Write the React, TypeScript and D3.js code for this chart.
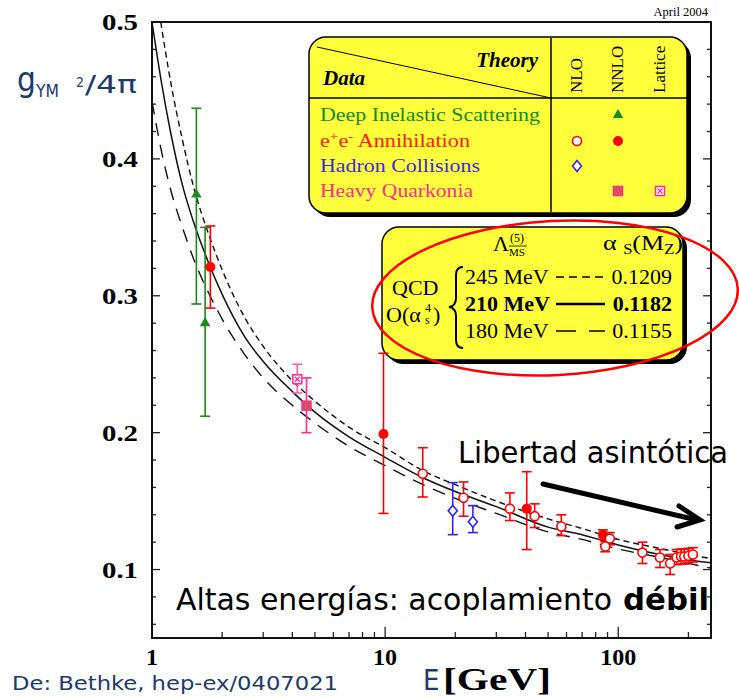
import React, { useEffect, useRef } from 'react';
import * as d3 from 'd3';

// Running coupling alpha_s(E), Bethke 2004 summary plot (D3)
const W = 739;
const H = 698;

// theory bands
const curveE = [1, 1.1, 1.2, 1.35, 1.5, 1.75, 2, 2.5, 3, 4, 5, 7, 10, 15, 20, 30, 50, 70, 100, 150, 200, 250];
const curve210 = [0.5, 0.455, 0.42, 0.381, 0.355, 0.324, 0.301, 0.27, 0.252, 0.23, 0.215, 0.197, 0.182, 0.166, 0.157, 0.146, 0.131, 0.1255, 0.118, 0.111, 0.107, 0.105];
const curve180 = [0.442, 0.405, 0.378, 0.35, 0.328, 0.302, 0.283, 0.257, 0.24, 0.22, 0.207, 0.19, 0.176, 0.161, 0.152, 0.141, 0.1275, 0.122, 0.115, 0.109, 0.1045, 0.101];
const curve245E = [1.09, 1.2, 1.35, 1.5, 1.75, 2, 2.5, 3, 4, 5, 7, 10, 15, 20, 30, 50, 70, 100, 150, 200, 250];
const curve245 = [0.5, 0.457, 0.414, 0.381, 0.345, 0.319, 0.284, 0.263, 0.238, 0.223, 0.204, 0.189, 0.171, 0.162, 0.15, 0.137, 0.13, 0.122, 0.1155, 0.111, 0.108];

// measurements
const disE = [1.55, 1.69];
const disV = [0.374, 0.28];
const disLo = [0.294, 0.212];
const disHi = [0.437, 0.35];

const eeNnloE = [1.78, 9.84, 40.5, 86];
const eeNnloV = [0.321, 0.199, 0.1445, 0.1255];
const eeNnloLo = [0.291, 0.141, 0.1146, 0.122];
const eeNnloHi = [0.351, 0.258, 0.1715, 0.129];

const eeNloE = [14.5, 21.7, 34.3, 43.8, 57, 88, 92, 127, 151, 167, 178, 186, 192, 200, 209];
const eeNloV = [0.17, 0.1525, 0.1445, 0.139, 0.1315, 0.1168, 0.1226, 0.1124, 0.1088, 0.1044, 0.1088, 0.1095, 0.1095, 0.11, 0.111];
const eeNloLo = [0.153, 0.139, 0.1358, 0.1307, 0.1248, 0.113, 0.118, 0.1044, 0.1015, 0.0964, 0.1036, 0.104, 0.104, 0.105, 0.1055];
const eeNloHi = [0.189, 0.164, 0.156, 0.148, 0.14, 0.1204, 0.127, 0.12, 0.1146, 0.111, 0.1146, 0.115, 0.115, 0.1155, 0.116];

const hadE = [19.5, 23.8];
const hadV = [0.143, 0.135];
const hadLo = [0.1255, 0.127];
const hadHi = [0.1635, 0.1467];

const hqNnloE = [4.6];
const hqNnloV = [0.2197];
const hqNnloLo = [0.2];
const hqNnloHi = [0.24];

const hqLatE = [4.2];
const hqLatV = [0.239];
const hqLatLo = [0.229];
const hqLatHi = [0.25];

const yMajor = [0.1, 0.2, 0.3, 0.4, 0.5];
const yLabels = ['0.1', '0.2', '0.3', '0.4', '0.5'];
const yMinor = d3.range(3, 26).map(i => +(i * 0.02).toFixed(2));
const xMajor = [1, 10, 100];
const xLabels = ['1', '10', '100'];

const legendRows = ['Deep Inelastic Scattering', 'e+e- Annihilation', 'Hadron Collisions', 'Heavy Quarkonia'];
const legendColors = ['#148c14', '#ff1a00', '#3a2ad8', '#ff2d8f'];
const legendWidths = [220, 150, 160, 153];
const legendCols = ['NLO', 'NNLO', 'Lattice'];
const legendMarks = [
  [null, 'triangle', null],
  ['circleOpen', 'circleFilled', null],
  ['diamond', null, null],
  [null, 'squareFilled', 'squareX'],
];

const qcdLambda = ['245 MeV', '210 MeV', '180 MeV'];
const qcdAlpha = ['0.1209', '0.1182', '0.1155'];

const GREEN = '#1b8a1b';
const RED = '#ff0000';
const BLUE = '#3322ee';
const PINK = '#ff2a96';
const YELLOW = '#ffff3c';
const NAVY = '#1d3a6b';
const serif = '"Liberation Serif", "Times New Roman", serif';
const sans = '"DejaVu Sans Condensed", "DejaVu Sans", Verdana, sans-serif';

function drawMark(g: any, type: string, cx: number, cy: number, color: string) {
  const t = `translate(${cx},${cy})`;
  if (type === 'triangle') {
    g.append('path').attr('d', d3.symbol(d3.symbolTriangle, 48)()).attr('transform', t).attr('fill', color);
  } else if (type === 'circleFilled') {
    g.append('circle').attr('cx', cx).attr('cy', cy).attr('r', 5).attr('fill', color);
  } else if (type === 'circleOpen') {
    g.append('circle').attr('cx', cx).attr('cy', cy).attr('r', 4.5).attr('fill', '#fff').attr('stroke', color).attr('stroke-width', 1.6);
  } else if (type === 'diamond') {
    g.append('path').attr('d', 'M0,-5.5L4.5,0L0,5.5L-4.5,0Z').attr('transform', t)
      .attr('fill', '#fff').attr('stroke', color).attr('stroke-width', 1.6);
  } else if (type === 'squareFilled') {
    g.append('rect').attr('x', cx - 4.5).attr('y', cy - 4.5).attr('width', 9).attr('height', 9)
      .attr('fill', '#d9505a').attr('stroke', color).attr('stroke-width', 1.5);
  } else if (type === 'squareX') {
    g.append('rect').attr('x', cx - 4.5).attr('y', cy - 4.5).attr('width', 9).attr('height', 9)
      .attr('fill', '#fff').attr('stroke', color).attr('stroke-width', 1.5);
    g.append('path').attr('d', 'M-2.5,-2.5L2.5,2.5M2.5,-2.5L-2.5,2.5').attr('transform', t)
      .attr('stroke', color).attr('stroke-width', 1.2);
  }
}

export default function App() {
  const ref = useRef<SVGSVGElement>(null);

  useEffect(() => {
    const svg = d3.select(ref.current);
    svg.selectAll('*').remove();

    const x = d3.scaleLog().domain([1, 250]).range([152, 711]);
    const y = d3.scaleLinear().domain([0.05, 0.5]).range([638, 22]);
    const [x0, x1] = x.range();
    const [y0, y1] = y.range();

    svg.append('rect').attr('width', W).attr('height', H).attr('fill', '#fff');
    svg.append('defs').append('clipPath').attr('id', 'plotclip')
      .append('rect').attr('x', x0).attr('y', y1).attr('width', x1 - x0).attr('height', y0 - y1);

    // inward ticks on all sides but the top
    const ax = svg.append('g').attr('stroke', '#222').attr('stroke-width', 1.3);
    yMinor.forEach(v => {
      const major = yMajor.some(m => Math.abs(m - v) < 1e-6);
      const len = major ? 8 : 4;
      ax.append('line').attr('x1', x0).attr('x2', x0 + len).attr('y1', y(v)).attr('y2', y(v));
      ax.append('line').attr('x1', x1).attr('x2', x1 - len).attr('y1', y(v)).attr('y2', y(v));
    });
    x.ticks().forEach(v => {
      const major = xMajor.includes(v);
      const len = major ? 11 : 6;
      ax.append('line').attr('x1', x(v)).attr('x2', x(v)).attr('y1', y0).attr('y2', y0 - len);
    });
    svg.append('rect').attr('x', x0).attr('y', y1).attr('width', x1 - x0).attr('height', y0 - y1)
      .attr('fill', 'none').attr('stroke', '#111').attr('stroke-width', 2);

    // tick labels
    yMajor.forEach((v, i) => {
      svg.append('text').attr('x', 138).attr('y', y(v) + 8).attr('text-anchor', 'end')
        .attr('font-family', serif).attr('font-weight', 'bold').attr('font-size', 23)
        .attr('textLength', 36).attr('lengthAdjust', 'spacingAndGlyphs').text(yLabels[i]);
    });
    xMajor.forEach((v, i) => {
      svg.append('text').attr('x', x(v)).attr('y', 665).attr('text-anchor', 'middle')
        .attr('font-family', serif).attr('font-weight', 'bold').attr('font-size', 24).text(xLabels[i]);
    });

    // axis titles
    svg.append('text').attr('x', 17).attr('y', 91).attr('fill', NAVY).attr('font-family', sans)
      .attr('font-size', 33).text('g');
    svg.append('text').attr('x', 36).attr('y', 97).attr('fill', NAVY).attr('font-family', sans)
      .attr('font-size', 17).attr('textLength', 23).attr('lengthAdjust', 'spacingAndGlyphs').text('YM');
    svg.append('text').attr('x', 76).attr('y', 87).attr('fill', NAVY).attr('font-family', sans)
      .attr('font-size', 14).text('2');
    svg.append('text').attr('x', 85).attr('y', 93).attr('fill', NAVY).attr('font-family', sans)
      .attr('font-size', 24).attr('textLength', 52).attr('lengthAdjust', 'spacingAndGlyphs').text('/4π');

    svg.append('text').attr('x', 423).attr('y', 690).attr('fill', NAVY).attr('font-family', sans)
      .attr('font-size', 29).text('E');
    svg.append('text').attr('x', 443).attr('y', 690).attr('font-family', serif).attr('font-weight', 'bold')
      .attr('font-size', 32).attr('textLength', 108).attr('lengthAdjust', 'spacingAndGlyphs').text('[GeV]');

    svg.append('text').attr('x', 12).attr('y', 690).attr('fill', NAVY).attr('font-family', sans)
      .attr('font-size', 19).attr('textLength', 326).attr('lengthAdjust', 'spacingAndGlyphs')
      .text('De: Bethke, hep-ex/0407021');

    svg.append('text').attr('x', 708).attr('y', 16).attr('text-anchor', 'end').attr('font-family', serif)
      .attr('font-size', 12.5).text('April 2004');

    // theory curves
    const curves = svg.append('g').attr('clip-path', 'url(#plotclip)').attr('fill', 'none').attr('stroke', '#111');
    const line = (es: number[]) => d3.line<number>().x((_, i) => x(es[i])).y(d => y(d)).curve(d3.curveMonotoneX);
    curves.append('path').attr('d', line(curve245E)(curve245)).attr('stroke-width', 1.4).attr('stroke-dasharray', '6,4');
    curves.append('path').attr('d', line(curveE)(curve210)).attr('stroke-width', 1.5);
    curves.append('path').attr('d', line(curveE)(curve180)).attr('stroke-width', 1.4).attr('stroke-dasharray', '13,9');

    // legend box (data / theory)
    const box = (bx: number, by: number, bw: number, bh: number) => {
      svg.append('rect').attr('x', bx + 4).attr('y', by + 4).attr('width', bw).attr('height', bh).attr('rx', 17).attr('fill', '#000');
      svg.append('rect').attr('x', bx).attr('y', by).attr('width', bw).attr('height', bh).attr('rx', 17)
        .attr('fill', YELLOW).attr('stroke', '#000').attr('stroke-width', 1.5);
    };
    box(309, 37, 378, 176);
    const lg = svg.append('g');
    lg.append('line').attr('x1', 309).attr('x2', 687).attr('y1', 98).attr('y2', 98).attr('stroke', '#000').attr('stroke-width', 1.5);
    lg.append('line').attr('x1', 551).attr('x2', 551).attr('y1', 38).attr('y2', 212).attr('stroke', '#000').attr('stroke-width', 1.5);
    lg.append('line').attr('x1', 317).attr('x2', 551).attr('y1', 47).attr('y2', 98).attr('stroke', '#000').attr('stroke-width', 1);
    lg.append('text').attr('x', 538).attr('y', 67).attr('text-anchor', 'end').attr('font-family', serif)
      .attr('font-weight', 'bold').attr('font-style', 'italic').attr('font-size', 21).text('Theory');
    lg.append('text').attr('x', 323).attr('y', 85).attr('font-family', serif)
      .attr('font-weight', 'bold').attr('font-style', 'italic').attr('font-size', 21).text('Data');
    const colX = [577, 618, 660];
    legendCols.forEach((c, i) => {
      lg.append('text').attr('transform', `translate(${colX[i] + 5},93) rotate(-90)`)
        .attr('font-family', serif).attr('font-size', 17).text(c);
    });
    const rowY = [115, 141, 166, 191];
    legendRows.forEach((r, i) => {
      const t = lg.append('text').attr('x', 320).attr('y', rowY[i] + 6).attr('fill', legendColors[i])
        .attr('font-family', serif).attr('font-size', 19)
        .attr('textLength', legendWidths[i]).attr('lengthAdjust', 'spacingAndGlyphs');
      if (r.startsWith('e+e-')) {
        t.append('tspan').text('e');
        t.append('tspan').attr('dy', -6).attr('font-size', 13).text('+');
        t.append('tspan').attr('dy', 6).text('e');
        t.append('tspan').attr('dy', -6).attr('font-size', 13).text('-');
        t.append('tspan').attr('dy', 6).text(' Annihilation');
      } else {
        t.text(r);
      }
      legendMarks[i].forEach((m, j) => {
        if (m) drawMark(lg, m, colX[j], rowY[i], [GREEN, RED, BLUE, PINK][i]);
      });
    });

    // QCD box
    box(382, 227, 301, 133);
    const qg = svg.append('g').attr('font-family', serif);
    qg.append('text').attr('x', 493).attr('y', 251).attr('font-size', 22).text('Λ');
    qg.append('text').attr('x', 510).attr('y', 242).attr('font-size', 12).text('(5)');
    qg.append('text').attr('x', 509).attr('y', 256).attr('font-size', 11).text('MS');
    qg.append('line').attr('x1', 509).attr('x2', 527).attr('y1', 246).attr('y2', 246).attr('stroke', '#000').attr('stroke-width', 0.8);
    const al = qg.append('text').attr('x', 603).attr('y', 250).attr('font-size', 22)
      .attr('textLength', 80).attr('lengthAdjust', 'spacingAndGlyphs');
    al.append('tspan').text('α ');
    al.append('tspan').attr('dy', 4).attr('font-size', 14).text('S');
    al.append('tspan').attr('dy', -4).text('(M');
    al.append('tspan').attr('dy', 4).attr('font-size', 14).text('Z');
    al.append('tspan').attr('dy', -4).text(')');
    qg.append('text').attr('x', 392).attr('y', 295).attr('font-size', 22).text('QCD');
    qg.append('text').attr('x', 386).attr('y', 322).attr('font-size', 22).text('O(α');
    qg.append('text').attr('x', 425).attr('y', 312).attr('font-size', 12).text('4');
    qg.append('text').attr('x', 425).attr('y', 324).attr('font-size', 12).text('s');
    qg.append('text').attr('x', 433).attr('y', 322).attr('font-size', 22).text(')');
    qg.append('path')
      .attr('d', 'M463,267 Q456,267 456,275 L456,298 Q456,306 449,307 Q456,308 456,316 L456,340 Q456,348 463,348')
      .attr('fill', 'none').attr('stroke', '#000').attr('stroke-width', 2);
    const rowBase = [284, 311, 338];
    const dashes = ['8,5', null, '20,13'];
    qcdLambda.forEach((lab, i) => {
      const bold = i === 1 ? 'bold' : 'normal';
      qg.append('text').attr('x', 465).attr('y', rowBase[i]).attr('font-size', 22).attr('font-weight', bold).text(lab);
      qg.append('text').attr('x', 672).attr('y', rowBase[i]).attr('text-anchor', 'end').attr('font-size', 22)
        .attr('font-weight', bold).text(qcdAlpha[i]);
      const l = qg.append('line').attr('x1', 556).attr('x2', 605).attr('y1', rowBase[i] - 7).attr('y2', rowBase[i] - 7)
        .attr('stroke', '#000').attr('stroke-width', i === 1 ? 2.6 : 1.4);
      if (dashes[i]) l.attr('stroke-dasharray', dashes[i]);
    });

    // data points with error bars
    const dg = svg.append('g');
    const series = (es: number[], vs: number[], lo: number[], hi: number[], color: string, mark: string, barColor?: string) => {
      es.forEach((e, i) => {
        const cx = x(e);
        const c = barColor || color;
        dg.append('line').attr('x1', cx).attr('x2', cx).attr('y1', y(lo[i])).attr('y2', y(hi[i]))
          .attr('stroke', c).attr('stroke-width', 1.6);
        [lo[i], hi[i]].forEach(v => {
          dg.append('line').attr('x1', cx - 5).attr('x2', cx + 5).attr('y1', y(v)).attr('y2', y(v))
            .attr('stroke', c).attr('stroke-width', 1.6);
        });
      });
      es.forEach((e, i) => drawMark(dg, mark, x(e), y(vs[i]), color));
    };
    series(disE, disV, disLo, disHi, GREEN, 'triangle');
    series(hqLatE, hqLatV, hqLatLo, hqLatHi, PINK, 'squareX', '#ff5fb0');
    series(hqNnloE, hqNnloV, hqNnloLo, hqNnloHi, PINK, 'squareFilled');
    series(hadE, hadV, hadLo, hadHi, BLUE, 'diamond');
    series(eeNnloE, eeNnloV, eeNnloLo, eeNnloHi, RED, 'circleFilled');
    series(eeNloE, eeNloV, eeNloLo, eeNloHi, RED, 'circleOpen');

    // red ellipse around QCD box
    svg.append('ellipse').attr('cx', 555).attr('cy', 298).attr('rx', 183).attr('ry', 77)
      .attr('transform', 'rotate(-3,555,298)')
      .attr('fill', 'none').attr('stroke', RED).attr('stroke-width', 2.5);

    // annotations
    svg.append('text').attr('x', 458).attr('y', 463).attr('font-family', sans).attr('font-size', 31)
      .attr('textLength', 270).attr('lengthAdjust', 'spacingAndGlyphs').text('Libertad asintótica');
    svg.append('line').attr('x1', 543).attr('y1', 484).attr('x2', 697).attr('y2', 520)
      .attr('stroke', '#000').attr('stroke-width', 5).attr('stroke-linecap', 'round');
    svg.append('polyline').attr('points', '679,506 700,520 677,527')
      .attr('fill', 'none').attr('stroke', '#000').attr('stroke-width', 5).attr('stroke-linecap', 'round');
    svg.append('text').attr('x', 176).attr('y', 610).attr('font-family', sans).attr('font-size', 31)
      .attr('textLength', 436).attr('lengthAdjust', 'spacingAndGlyphs').text('Altas energías: acoplamiento');
    svg.append('text').attr('x', 623).attr('y', 610).attr('font-family', sans).attr('font-size', 31)
      .attr('font-weight', 'bold').attr('textLength', 86).attr('lengthAdjust', 'spacingAndGlyphs').text('débil');
  }, []);

  return (
    <div style={{ position: 'absolute', left: 0, top: 0 }}>
      <svg ref={ref} width={W} height={H} role="img" aria-label="Running coupling versus energy" />
    </div>
  );
}
